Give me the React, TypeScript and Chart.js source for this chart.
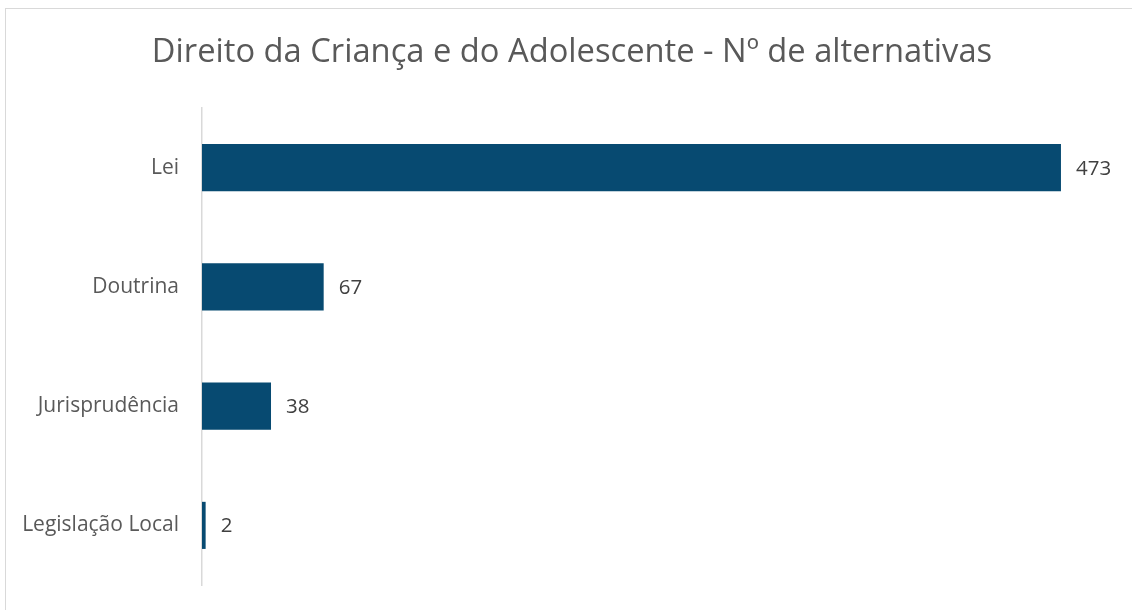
import React, { useEffect, useRef } from "react";
import { Chart, registerables } from "chart.js";

Chart.register(...registerables);

const categories: string[] = ["Lei", "Doutrina", "Jurisprudência", "Legislação Local"];
const values: number[] = [473, 67, 38, 2];
const chartTitle = "Direito da Criança e do Adolescente - Nº de alternativas";

const BAR_COLOR = "#074a71";
const TEXT_COLOR = "#595959";
const LABEL_COLOR = "#404040";
const FONT = "'Open Sans', Lato, sans-serif";

const valueLabels = {
  id: "valueLabels",
  afterDatasetsDraw(chart: any) {
    const ctx = chart.ctx;
    const meta = chart.getDatasetMeta(0);
    ctx.save();
    ctx.font = `20.5px ${FONT}`;
    ctx.fillStyle = LABEL_COLOR;
    ctx.textAlign = "left";
    ctx.textBaseline = "middle";
    meta.data.forEach((bar: any, i: number) => {
      ctx.fillText(String(values[i]), bar.x + 15, bar.y + 1);
    });
    ctx.restore();
  },
};

// Center the title over the whole chart box rather than the padded layout area.
const centerTitle = {
  id: "centerTitle",
  afterLayout(chart: any) {
    if (chart.titleBlock) {
      chart.titleBlock.left = 0;
      chart.titleBlock.right = chart.width;
    }
  },
};

export default function App() {
  const ref = useRef<HTMLCanvasElement | null>(null);
  useEffect(() => {
    if (!ref.current) return;
    const chart = new Chart(ref.current, {
      type: "bar",
      data: {
        labels: categories,
        datasets: [
          {
            data: values,
            backgroundColor: BAR_COLOR,
            barPercentage: 0.395,
            categoryPercentage: 1,
          },
        ],
      },
      options: {
        indexAxis: "y",
        animation: false,
        responsive: false,
        maintainAspectRatio: false,
        layout: { padding: { top: 0, right: 29, bottom: 25, left: 0 } },
        plugins: {
          legend: { display: false },
          tooltip: { enabled: false },
          title: {
            display: true,
            text: chartTitle,
            color: TEXT_COLOR,
            font: { family: FONT, size: 32.7, weight: "normal" },
            padding: { top: 24.5, bottom: 35.3 },
          },
        },
        scales: {
          x: {
            display: false,
            min: 0,
            max: 500,
          },
          y: {
            afterFit(scale: any) {
              scale.width = 197;
              scale.paddingTop = 0;
              scale.paddingBottom = 0;
            },
            grid: { display: false, drawTicks: false },
            border: { display: true, color: "#d9d9d9", width: 1.5 },
            ticks: {
              color: TEXT_COLOR,
              font: { family: FONT, size: 21 },
              padding: 23,
            },
          },
        },
      },
      plugins: [valueLabels, centerTitle],
    });
    return () => chart.destroy();
  }, []);

  return (
    <div
      style={{
        position: "fixed",
        left: 0,
        top: 0,
        width: 1132,
        height: 610,
        overflow: "hidden",
        background: "#ffffff",
      }}
    >
      <div
        style={{
          position: "absolute",
          left: 5,
          top: 8,
          width: 1160,
          height: 640,
          border: "1.5px solid #d9d9d9",
          boxSizing: "border-box",
        }}
      />
      <canvas
        ref={ref}
        width={1134}
        height={601}
        style={{ position: "absolute", left: 5, top: 9, width: 1134, height: 601 }}
      />
    </div>
  );
}
